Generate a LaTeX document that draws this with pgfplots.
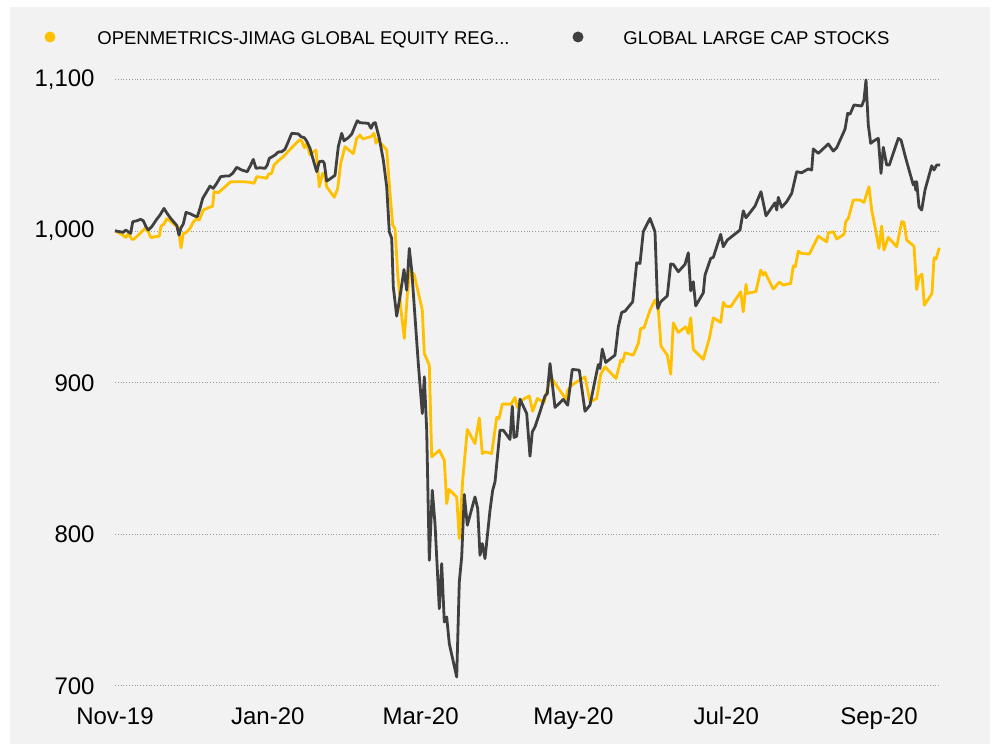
\documentclass[border=0pt]{standalone}
\usepackage{pgfplots}
\usepackage{pgfplotstable}
\pgfplotsset{compat=1.18}
\usepackage{fontspec}
\setmainfont{Liberation Sans}
\definecolor{bg}{HTML}{F2F2F2}
\definecolor{ygold}{HTML}{FFC000}
\definecolor{dgray}{HTML}{404040}
\definecolor{gridc}{HTML}{9A9A9A}

\pgfplotstableread{
x v
0 1000.2
5 998.5
11 995.9
13.3 998.5
16.7 994.7
19 994.7
25 998.5
30 1001.8
33.3 999.6
36 995.6
40 996.3
44.3 996.7
46 1003.3
49 1004.7
51.7 1008.2
55 1006.8
60 1004.0
63.3 1002.5
66 989.0
68.3 998.5
71 998.9
75 1001.8
78.3 1006.0
81.7 1008.2
84.3 1007.3
88.3 1013.9
93.3 1015.4
97.7 1016.5
99 1026.0
103.3 1025.3
108.3 1028.2
115.7 1032.6
128.3 1032.6
135 1032.2
139 1031.5
141.7 1035.9
146.7 1035.5
151.7 1034.8
153.7 1037.7
156.7 1038.1
159 1043.6
163.3 1046.4
168.3 1049.1
176.7 1055.0
184.3 1060.1
186.7 1059.6
189.3 1055.0
191.7 1057.9
195 1050.2
197.7 1052.0
201 1053.5
204.3 1029.3
207.7 1038.1
210 1036.3
211.7 1029.3
219.3 1022.3
222.7 1028.2
225.7 1044.7
230 1055.7
238.3 1051.1
241.7 1061.2
245 1063.4
247.7 1060.8
256 1062.3
259 1064.5
261 1057.9
262.3 1060.6
271.7 1053.5
275 1024.9
277.7 1004.0
280 1001.8
282.7 972.1
286 947.9
289.3 929.2
292.5 959.4
295 974.3
299.2 971.3
307.3 947.9
309.3 919.3
314.3 911.6
316.7 851.1
324.3 855.5
329.3 848.9
331.7 820.3
334 829.6
341.7 824.7
344.3 797.2
347.7 835.7
352.3 869.2
360 859.9
364.3 876.8
367.3 853.3
370 854.4
376.7 853.3
381.7 877.1
384 876.4
387.3 885.9
396 885.9
400 890.3
402.3 883.7
406.7 888.5
414.3 891.3
417.7 881.2
422.3 889.6
429 887.0
435.7 903.9
451 889.0
452.7 895.1
457.7 898.9
470 903.9
475 887.4
481.7 889.6
485.7 905.4
490 910.5
501 902.8
505.7 914.9
507.7 913.8
510 919.7
518.3 918.2
523.3 925.9
525.7 935.8
529 936.2
535 947.9
540 954.5
543.3 949.0
546 924.1
552.3 918.2
555.7 905.7
558.3 939.5
563.3 933.2
570.7 936.9
573.3 932.5
575.7 942.8
578.3 922.0
588.3 915.4
594.3 929.2
598.3 942.8
605.7 939.8
608.3 953.0
611 950.5
615.7 950.1
625.7 960.0
628.3 946.8
631 964.9
632.3 958.9
641 960.2
645.7 974.3
648.3 971.0
650 972.8
658.3 961.8
664.3 966.4
668.3 964.4
675.7 965.5
678.3 977.1
680.3 976.5
683.3 986.8
686.7 985.3
694.3 984.9
698.3 990.1
703.3 996.7
711.7 992.9
713.3 998.9
718.3 999.6
721.7 994.8
729 997.9
730.7 1006.2
733.3 1008.4
738.3 1020.5
745 1020.5
749 1019.0
754 1029.3
756.7 1013.9
760 1002.9
764 988.6
766.7 1003.3
769 987.5
773.3 995.9
781.7 989.7
786.7 1006.2
789 1005.8
791.7 994.1
799 990.1
801.7 961.5
804 969.8
807 971.6
809.3 951.2
817 958.9
819 982.4
821 981.6
824.3 989.0
}\yeltab

\pgfplotstableread{
x v
0 1000.2
5 999.6
8.3 999.2
10.7 1000.7
13.3 999.6
15.7 998.5
17.7 1006.2
21.7 1006.8
25.7 1007.8
28.3 1006.8
31 1002.9
33.3 1000.7
36.7 1002.9
41.7 1007.8
45 1010.6
49 1015.0
51.7 1012.1
55.7 1008.4
60 1005.1
61.7 1003.8
64 997.4
66 1002.2
68.3 1004.7
71 1012.4
75 1011.5
80 1009.9
82.3 1009.5
85 1015.0
87.7 1021.6
91.7 1026.0
95 1029.7
98.3 1028.2
101.7 1031.5
105.7 1035.9
110 1036.3
114 1036.3
117.7 1038.1
121.7 1042.1
126.7 1040.3
132.3 1039.2
135.7 1043.6
138.3 1047.3
141 1041.4
145 1041.8
150 1041.4
152.3 1043.6
154.3 1048.0
157.3 1049.1
160 1050.2
163.3 1052.2
166.7 1052.4
170 1054.0
173.3 1059.0
176.7 1064.5
183.3 1064.1
186 1062.3
189.3 1061.6
191.7 1059.4
195 1054.6
198.3 1046.9
201.7 1039.2
204.3 1045.8
207.7 1046.2
209.3 1044.7
211.7 1033.0
215 1034.4
220 1036.8
223.3 1055.7
226.7 1064.5
229 1059.6
233.3 1061.6
236.7 1063.9
240 1069.3
242.3 1072.8
245 1071.5
253.3 1071.1
256 1067.8
258.3 1071.1
260.3 1071.5
264.3 1061.2
268.3 1046.9
271.7 1029.3
274.3 999.6
276.7 995.2
278.3 963.3
281.7 943.9
285 956.7
289 974.7
291.7 961.1
294.3 988.6
296.7 974.3
300 943.5
303.3 912.7
307.3 879.7
309.3 903.9
311.7 868.7
314.3 782.9
317.3 829.1
320 807.1
324.3 751.0
326.7 780.7
329.3 742.2
331.7 745.5
334.3 727.9
341.7 705.9
344.3 768.6
346.7 785.1
349.3 826.3
352.3 806.0
360 824.7
362.7 817.0
365 786.2
367.3 793.9
370 784.0
375 815.9
377.7 829.1
380 834.6
385 868.7
388.3 868.7
395 862.6
397.3 884.5
399 863.9
401.7 864.7
405 889.2
411.7 879.7
415 851.5
417.3 867.6
420 870.9
425 880.8
430 891.3
432.3 892.9
435 912.7
440 883.7
448.3 889.0
452.7 885.2
457.3 908.8
464.3 908.3
470 881.2
475 885.2
479 898.4
483.3 912.0
485 909.4
487.3 922.2
490.7 913.4
500 918.2
503.3 936.9
506.7 946.4
510 947.2
517.7 953.4
521.7 979.1
525 978.7
528.3 999.6
535 1008.4
540 999.6
542.7 949.0
545.7 953.4
552.3 957.3
555.7 978.3
558.3 978.1
563.3 973.2
570 978.1
573.3 985.7
575.7 960.6
578.3 966.6
580.7 950.7
588.3 959.3
590 971.0
595.7 982.0
598.3 982.7
605.7 997.9
608.3 989.7
612.3 994.1
625 1000.7
628.3 1013.4
631 1008.8
640 1016.5
646 1026.0
651 1010.1
660 1018.7
661.7 1013.9
663.3 1022.3
666.7 1015.7
671.7 1019.4
676.7 1024.9
681.7 1039.2
686.7 1038.5
690 1039.8
693.3 1041.0
696.7 1040.3
698.3 1054.2
703.3 1051.3
713.3 1057.5
718.3 1052.8
721.7 1055.0
730 1067.2
732.7 1077.7
735 1077.1
739 1083.2
746.7 1082.5
749 1086.5
751 1099.7
753.3 1070.0
755.7 1057.9
759 1059.6
763.3 1061.2
766 1038.1
768.3 1055.3
771.7 1043.6
774.3 1043.6
783.3 1061.2
786 1060.1
791.7 1045.8
798.3 1030.4
800 1032.6
800.7 1027.1
801.7 1032.6
804 1016.1
806.7 1013.9
810 1027.1
816.7 1043.1
819 1040.3
821.7 1043.6
825 1043.6
}\darktab

\begin{document}
\begin{tikzpicture}[x=1pt,y=1pt]
\path[use as bounding box] (0,0) rectangle (499,372);
\fill[bg] (5,0) rectangle (495,368.5);
\fill[ygold] (25,353.5) circle (2.75);
\node[anchor=base west, inner sep=0pt, font=\fontsize{9.25}{11}\selectfont] at (48.5,349.75) {OPENMETRICS-JIMAG GLOBAL EQUITY REG...};
\fill[dgray] (289,353.5) circle (2.75);
\node[anchor=base west, inner sep=0pt, font=\fontsize{9.25}{11}\selectfont] at (311.5,349.75) {GLOBAL LARGE CAP STOCKS};
\begin{axis}[
  at={(57.5pt,29pt)}, anchor=south west,
  scale only axis, width=412.5pt, height=303.25pt,
  xmin=0, xmax=825, ymin=700, ymax=1100,
  axis line style={draw=none},
  major tick length=0pt,
  ytick={700,800,900,1000,1100},
  yticklabels={700,800,900,{1,000},{1,100}},
  xtick={0,152.8,305.6,458.4,611.2,764},
  xticklabels={Nov-19,Jan-20,Mar-20,May-20,Jul-20,Sep-20},
  ymajorgrids,
  grid style={gridc, densely dotted, line width=0.5pt},
  tick label style={font=\fontsize{12}{14}\selectfont, text=black},
  yticklabel style={anchor=east, inner sep=0pt, xshift=-10pt},
  xticklabel style={anchor=north, inner sep=0pt, yshift=-10.5pt},
  clip=false,
]
\addplot[ygold, line width=1.4pt, line join=round] table[x=x, y=v] {\yeltab};
\addplot[dgray, line width=1.4pt, line join=round] table[x=x, y=v] {\darktab};
\end{axis}
\end{tikzpicture}
\end{document}
